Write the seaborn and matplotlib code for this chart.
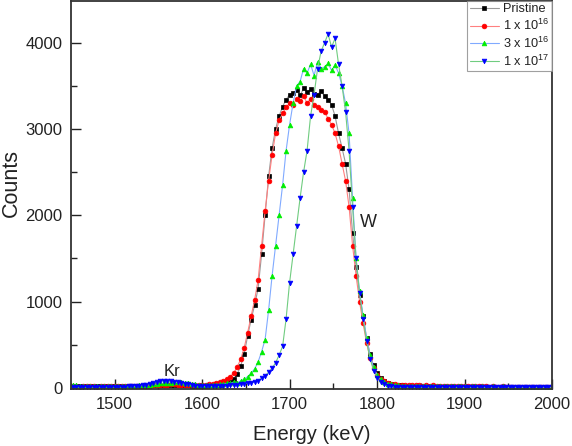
import numpy as np
import pandas as pd
import matplotlib
matplotlib.use("Agg")
import matplotlib.pyplot as plt
import seaborn as sns
from matplotlib.ticker import MultipleLocator

# energy grid (keV), 4 keV channels
energia = np.arange(1452, 2001, 4)

pristine = [
    # 1452-1528
    18, 20, 16, 19, 17, 21, 18, 16, 20, 19, 17, 18, 20, 19, 21, 20, 22, 21, 23, 24,
    # 1532-1600
    25, 27, 28, 30, 32, 33, 35, 36, 35, 34, 33, 31, 30, 28, 27, 26, 25, 25,
    # 1604-1700
    26, 28, 30, 34, 38, 45, 55, 70, 100, 160, 250, 390, 600, 790, 960, 1150,
    1550, 2000, 2450, 2780, 3000, 3150, 3260, 3340, 3400,
    # 1704-1800
    3420, 3450, 3390, 3470, 3430, 3460, 3410, 3400, 3440, 3380, 3340, 3280, 3150,
    2950, 2780, 2600, 2300, 1800, 1400, 1080, 830, 580, 390, 260, 170,
    # 1804-1828
    120, 85, 62, 48, 38, 32, 28,
    # 1832-2000
    25, 22, 20, 18, 17, 16, 15, 16, 14, 15, 13, 14, 15, 13, 12, 14, 13, 12, 13, 12,
    11, 12, 13, 11, 12, 10, 11, 12, 10, 11, 10, 12, 11, 10, 9, 11, 10, 9, 10, 11,
    9, 10, 9,
]

dose_1e16 = [
    # 1452-1528
    16, 18, 15, 17, 16, 18, 17, 15, 18, 17, 16, 17, 18, 17, 19, 18, 20, 19, 21, 22,
    # 1532-1600
    22, 24, 26, 28, 30, 33, 36, 38, 40, 40, 38, 36, 34, 32, 30, 29, 30, 32,
    # 1604-1700
    35, 40, 45, 55, 65, 80, 100, 130, 170, 240, 330, 460, 640, 830, 1020, 1250,
    1650, 2050, 2400, 2700, 2950, 3100, 3180, 3250, 3300,
    # 1704-1800
    3280, 3350, 3320, 3380, 3300, 3350, 3280, 3250, 3220, 3200, 3120, 3050, 2950,
    2800, 2600, 2400, 2100, 1650, 1300, 1000, 750, 520, 350, 230, 150,
    # 1804-1828
    105, 80, 60, 50, 42, 38, 35,
    # 1832-2000
    33, 30, 32, 28, 30, 27, 29, 26, 28, 25, 27, 24, 22, 23, 21, 20, 22, 19, 18, 20,
    17, 18, 16, 17, 15, 16, 14, 15, 16, 14, 13, 15, 14, 13, 12, 14, 13, 12, 13, 12,
    11, 12, 11,
]

dose_3e16 = [
    # 1452-1528
    30, 28, 26, 25, 24, 23, 22, 22, 21, 20, 21, 20, 22, 21, 22, 23, 24, 25, 26, 28,
    # 1532-1600
    30, 33, 36, 40, 46, 52, 56, 60, 62, 64, 65, 63, 60, 55, 48, 42, 36, 32,
    # 1604-1700
    30, 32, 35, 38, 42, 48, 55, 60, 65, 60, 80, 100, 130, 170, 220, 300,
    420, 560, 900, 1300, 1650, 2000, 2350, 2750, 3050,
    # 1704-1800
    3300, 3500, 3550, 3700, 3650, 3750, 3620, 3780, 3700, 3720, 3760, 3680, 3740,
    3650, 3500, 3300, 2950, 2200, 1500, 1120, 840, 580, 380, 240, 150,
    # 1804-1828
    100, 70, 50, 40, 32, 28, 25,
    # 1832-2000
    23, 22, 20, 21, 19, 20, 18, 19, 17, 18, 19, 17, 18, 16, 17, 18, 16, 17, 15, 16,
    17, 15, 16, 14, 15, 16, 14, 15, 16, 14, 15, 13, 14, 15, 13, 14, 15, 13, 14, 13,
    14, 13, 14,
]

dose_1e17 = [
    # 1452-1528
    12, 11, 10, 11, 10, 12, 11, 10, 11, 12, 11, 12, 13, 12, 14, 15, 16, 18, 20, 22,
    # 1532-1600
    28, 34, 42, 55, 65, 75, 80, 78, 75, 70, 65, 55, 46, 40, 32, 26, 22, 20,
    # 1604-1700
    20, 18, 18, 18, 20, 22, 25, 28, 32, 38, 42, 48, 55, 62, 70, 85,
    110, 140, 180, 230, 290, 380, 480, 800, 1220,
    # 1704-1800
    1550, 1880, 2200, 2500, 2750, 3150, 3400, 3700, 3900, 4000, 4100, 3950, 4050,
    3750, 3500, 3200, 2750, 2100, 1500, 1100, 800, 540, 340, 200, 120,
    # 1804-1828
    70, 40, 25, 18, 15, 12, 11,
    # 1832-2000
    10, 9, 10, 8, 9, 8, 9, 8, 7, 8, 9, 7, 8, 7, 8, 7, 6, 8, 7, 6,
    7, 6, 7, 6, 7, 6, 5, 7, 6, 5, 6, 5, 6, 5, 6, 5, 6, 5, 6, 5,
    6, 5, 6,
]

rotulos = ["Pristine", "1 x 10$^{16}$", "3 x 10$^{16}$", "1 x 10$^{17}$"]
series = [pristine, dose_1e16, dose_3e16, dose_1e17]
cor_linha = ["#9a9a9a", "#ff8080", "#80aaff", "#70cc80"]
cor_marcador = ["#000000", "#ff0000", "#00ee00", "#0000ff"]
marcadores = ["s", "o", "^", "v"]

for s in series:
    assert len(s) == len(energia), len(s)

sns.set_style("ticks")
plt.rcParams["font.family"] = ["Liberation Sans", "DejaVu Sans"]
plt.rcParams["text.color"] = "#222222"
plt.rcParams["axes.labelcolor"] = "#222222"
plt.rcParams["mathtext.fontset"] = "custom"
plt.rcParams["mathtext.rm"] = "Liberation Sans"
plt.rcParams["xtick.direction"] = "in"
plt.rcParams["ytick.direction"] = "in"

fig = plt.figure(figsize=(5.72, 4.46), dpi=100)
ax = fig.add_axes([0.124, 0.128, 0.841, 0.870])

for rot, s, cl, cm, mk in zip(rotulos, series, cor_linha, cor_marcador, marcadores):
    df = pd.DataFrame({"Energy": energia, "Counts": s})
    sns.lineplot(data=df, x="Energy", y="Counts", ax=ax, color=cl, linewidth=0.8,
                 marker=mk, markersize=3.4, markerfacecolor=cm, markeredgecolor=cm,
                 markeredgewidth=0.5, label=rot)

ax.set_xlim(1450, 2000)
ax.set_ylim(-12, 4485)
ax.xaxis.set_major_locator(MultipleLocator(100))
ax.xaxis.set_minor_locator(MultipleLocator(50))
ax.yaxis.set_major_locator(MultipleLocator(1000))
ax.yaxis.set_minor_locator(MultipleLocator(500))
ax.tick_params(which="both", direction="in", top=False, right=False,
               labelsize=12, colors="#222222")
ax.tick_params(which="major", length=7, width=1, pad=6)
ax.tick_params(which="minor", length=4, width=1)
for sp in ax.spines.values():
    sp.set_visible(True)
    sp.set_linewidth(1.3)
    sp.set_color("#333333")

ax.set_xlabel("Energy (keV)", fontsize=14.5, labelpad=9)
ax.set_ylabel("Counts", fontsize=15.5)
ax.yaxis.set_label_coords(-0.102, 0.531)

ax.text(1566, 185, "Kr", fontsize=12, ha="center", va="center")
ax.text(1790, 1918, "W", fontsize=13, ha="center", va="center")

leg = ax.legend(loc="upper right", fontsize=9.2, frameon=True, fancybox=False,
                borderaxespad=0.0, handlelength=2.3, labelspacing=0.2,
                handletextpad=0.3, borderpad=0.2)
leg.get_frame().set_edgecolor("#888888")
leg.get_frame().set_linewidth(0.8)

fig.savefig("out.png", dpi=100)
